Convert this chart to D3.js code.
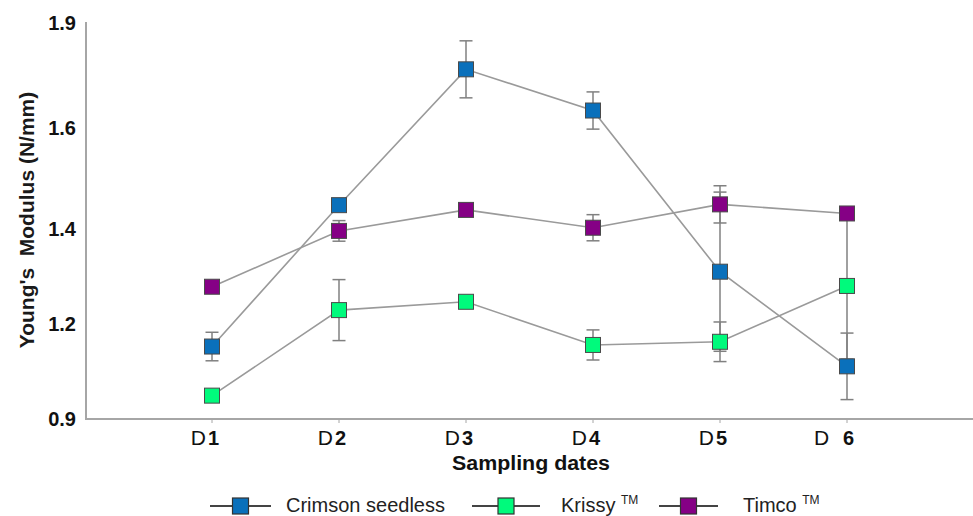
<!DOCTYPE html>
<html>
<head>
<meta charset="utf-8">
<script src="https://cdn.jsdelivr.net/npm/d3@7"></script>
<style>
  html, body { margin: 0; padding: 0; background: #fff; }
  text { font-family: "Liberation Sans", Arial, sans-serif; }
</style>
</head>
<body>
<svg id="chart" width="973" height="516"></svg>
<script>
const categories = ["D1", "D2", "D3", "D4", "D5", "D 6"];
const seriesNames = ["Crimson seedless", "Krissy", "Timco"];
const crimson    = [1.083, 1.440, 1.783, 1.679, 1.272, 1.033];
const crimsonErr = [0.036, 0.000, 0.072, 0.047, 0.201, 0.084];
const krissy     = [0.959, 1.175, 1.196, 1.087, 1.095, 1.236];
const krissyErr  = [0.000, 0.077, 0.000, 0.038, 0.050, 0.185];
const timco      = [1.234, 1.375, 1.428, 1.383, 1.442, 1.419];
const timcoErr   = [0.000, 0.026, 0.000, 0.033, 0.047, 0.000];
const yTickValues = [0.9, 1.14, 1.38, 1.635, 1.9];
const yTickLabels = ["0.9", "1.2", "1.4", "1.6", "1.9"];

const colors = ["#0a70bb", "#00fa7c", "#850085"];
const series = [
  { name: seriesNames[0], tm: false, values: crimson, err: crimsonErr, color: colors[0] },
  { name: seriesNames[1], tm: true,  values: krissy,  err: krissyErr,  color: colors[1] },
  { name: seriesNames[2], tm: true,  values: timco,   err: timcoErr,   color: colors[2] }
];

const svg = d3.select("#chart");
const x = d3.scalePoint().domain(categories).range([212, 847]);
const y = d3.scaleLinear().domain([0.9, 1.9]).range([419, 23]);

// axes lines
svg.append("line").attr("x1", 86).attr("x2", 86).attr("y1", 22).attr("y2", 419)
  .attr("stroke", "#a6a6a6").attr("stroke-width", 2);
svg.append("line").attr("x1", 85).attr("x2", 973).attr("y1", 419).attr("y2", 419)
  .attr("stroke", "#a6a6a6").attr("stroke-width", 2);

// x ticks
svg.selectAll(".xtick").data(categories).enter().append("line")
  .attr("x1", d => x(d)).attr("x2", d => x(d)).attr("y1", 420).attr("y2", 423)
  .attr("stroke", "#a6a6a6").attr("stroke-width", 1);

// x labels
const xl = svg.selectAll(".xlab").data(categories).enter().append("text")
  .attr("x", d => x(d) + 7).attr("y", 445)
  .attr("text-anchor", "end").attr("fill", "#111")
  .style("white-space", "pre");
xl.append("tspan").attr("font-size", 21).text(d => d.slice(0, -1) + (d.length > 2 ? " " : ""));
xl.append("tspan").attr("font-size", 20).attr("font-weight", "bold").attr("dx", 2).text(d => d.slice(-1));

// y labels
svg.selectAll(".ylab").data(yTickValues).enter().append("text")
  .attr("x", 76).attr("y", d => y(d)).attr("dy", "0.35em")
  .attr("text-anchor", "end").attr("font-size", 20).attr("font-weight", "bold").attr("fill", "#111")
  .text((d, i) => yTickLabels[i]);

// axis titles
svg.append("text").attr("transform", "translate(27,220) rotate(-90)")
  .attr("text-anchor", "middle").attr("dy", "0.35em")
  .attr("font-size", 21).attr("font-weight", "bold").attr("fill", "#1a1a1a")
  .style("white-space", "pre")
  .text("Young's  Modulus (N/mm)");
svg.append("text").attr("x", 531).attr("y", 470).attr("text-anchor", "middle")
  .attr("font-size", 20).attr("font-weight", "bold").attr("fill", "#111")
  .attr("textLength", 158).attr("lengthAdjust", "spacingAndGlyphs")
  .text("Sampling dates");

// lines
const line = d3.line().x((d, i) => x(categories[i])).y(d => y(d));
svg.selectAll(".series-line").data(series).enter().append("path")
  .attr("d", s => line(s.values)).attr("fill", "none")
  .attr("stroke", "#9a9a9a").attr("stroke-width", 1.6);

// error bars
series.forEach(s => {
  s.values.forEach((v, i) => {
    const e = s.err[i];
    if (!e) return;
    const cx = x(categories[i]);
    const g = svg.append("g").attr("stroke", "#808080").attr("stroke-width", 1.5);
    g.append("line").attr("x1", cx).attr("x2", cx).attr("y1", y(v - e)).attr("y2", y(v + e));
    g.append("line").attr("x1", cx - 6.5).attr("x2", cx + 6.5).attr("y1", y(v + e)).attr("y2", y(v + e));
    g.append("line").attr("x1", cx - 6.5).attr("x2", cx + 6.5).attr("y1", y(v - e)).attr("y2", y(v - e));
  });
});

// markers
const ms = 15;
series.forEach(s => {
  svg.selectAll(null).data(s.values).enter().append("rect")
    .attr("x", (d, i) => x(categories[i]) - ms / 2).attr("y", d => y(d) - ms / 2)
    .attr("width", ms).attr("height", ms)
    .attr("fill", s.color).attr("stroke", "#4a4a4a").attr("stroke-width", 1);
});

// legend
const legendItems = [
  { s: series[0], x1: 210, x2: 271, tx: 286 },
  { s: series[1], x1: 472, x2: 540, tx: 561 },
  { s: series[2], x1: 659, x2: 718, tx: 743 }
];
legendItems.forEach(li => {
  const cy = 506;
  const mx = (li.x1 + li.x2) / 2;
  svg.append("line").attr("x1", li.x1).attr("x2", li.x2).attr("y1", cy).attr("y2", cy)
    .attr("stroke", "#444").attr("stroke-width", 2);
  svg.append("rect").attr("x", mx - 8).attr("y", cy - 8).attr("width", 16).attr("height", 16)
    .attr("fill", li.s.color).attr("stroke", "#333").attr("stroke-width", 1.2);
  const t = svg.append("text").attr("x", li.tx).attr("y", 512)
    .attr("font-size", 20).attr("fill", "#222").style("white-space", "pre");
  t.append("tspan").text(li.s.name + (li.s.tm ? " " : ""));
  if (li.s.tm) {
    t.append("tspan").attr("font-size", 12).attr("dy", -8).text("TM");
  }
});
</script>
</body>
</html>
